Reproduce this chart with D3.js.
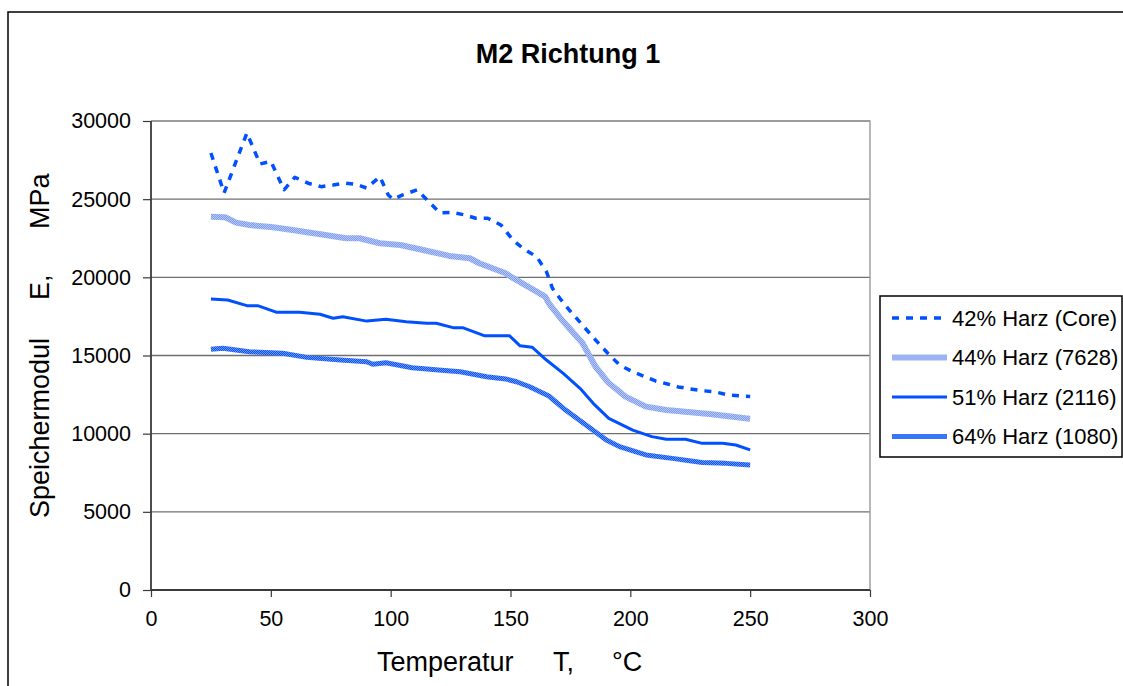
<!DOCTYPE html>
<html>
<head>
<meta charset="utf-8">
<script src="https://cdn.jsdelivr.net/npm/d3@7"></script>
<style>
  body { margin: 0; background: #fff; }
  svg { display: block; font-family: "Liberation Sans", Arial, sans-serif; }
</style>
</head>
<body>
<svg id="chart" width="1123" height="686"></svg>
<script>
// Data (temperature in °C, storage modulus in MPa)
const seriesNames = ["42% Harz (Core)", "44% Harz (7628)", "51% Harz (2116)", "64% Harz (1080)"];

const tCore = [25, 30.5, 40, 45.5, 50, 55.5, 60, 66, 71, 76, 81, 86, 90, 95.5, 99, 101, 105, 111, 115.5, 120.5, 125.5, 131, 135.5, 140.5, 146, 151, 155, 161, 165, 167.5, 170.5, 174.5, 180, 185.5, 190.5, 195.5, 201, 206, 210.5, 215.5, 220, 225, 230, 235.5, 241, 246.5, 250];
const eCore = [27950, 25400, 29230, 27250, 27420, 25600, 26400, 26000, 25800, 25900, 26030, 25930, 25710, 26440, 25270, 24990, 25270, 25590, 24900, 24130, 24160, 23990, 23780, 23780, 23350, 22390, 21880, 21300, 20360, 19300, 18680, 17910, 16950, 15990, 15160, 14390, 13960, 13650, 13370, 13180, 12990, 12860, 12750, 12670, 12470, 12410, 12380];

const t7628 = [25, 31, 35.5, 41, 51, 59, 70, 81.5, 87, 95.5, 104, 113.5, 124.5, 133, 137, 148, 151, 164.5, 166, 171.5, 180, 185.5, 191, 198, 206.5, 215, 223, 234, 248, 250];
const e7628 = [23880, 23840, 23500, 23350, 23200, 23030, 22770, 22500, 22500, 22180, 22070, 21750, 21370, 21220, 20900, 20260, 19960, 18760, 18340, 17270, 15800, 14280, 13240, 12370, 11730, 11510, 11400, 11240, 10980, 10950];

const t2116 = [25, 32, 40, 44.5, 52.5, 62, 70.5, 76, 80, 90, 98, 106.5, 115, 119, 126, 130, 139, 149.5, 154, 159, 165, 172, 179, 184.5, 191, 201, 209, 215, 223, 230, 238.5, 244, 250];
const e2116 = [18610, 18550, 18190, 18190, 17760, 17760, 17640, 17380, 17480, 17200, 17320, 17160, 17060, 17060, 16780, 16780, 16270, 16270, 15620, 15530, 14710, 13860, 12900, 11940, 10980, 10230, 9810, 9640, 9640, 9380, 9380, 9275, 8960];

const t1080 = [25, 30, 41, 55, 65, 79, 90, 92.5, 98, 109, 120, 129, 140, 148, 152.5, 158, 166, 173, 181.5, 190, 195.5, 206.5, 217.5, 230, 240, 250];
const e1080 = [15400, 15460, 15240, 15140, 14880, 14710, 14600, 14440, 14540, 14220, 14070, 13960, 13640, 13500, 13320, 13000, 12410, 11510, 10550, 9600, 9170, 8640, 8420, 8150, 8100, 8000];

const xTicks = [0, 50, 100, 150, 200, 250, 300];
const yTicks = [0, 5000, 10000, 15000, 20000, 25000, 30000];

const svg = d3.select("#chart");

// outer chart frame (runs off the right and bottom of the picture)
svg.append("rect")
    .attr("x", 8).attr("y", 12)
    .attr("width", 1200).attr("height", 800)
    .attr("fill", "#fff").attr("stroke", "#000").attr("stroke-width", 1.5);

// stroke textures for the two patterned lines
const defs = svg.append("defs");
function checker(id, c1, c2) {
    const p = defs.append("pattern")
        .attr("id", id).attr("patternUnits", "userSpaceOnUse")
        .attr("width", 2).attr("height", 2);
    p.append("rect").attr("width", 2).attr("height", 2).attr("fill", c1);
    p.append("rect").attr("width", 1).attr("height", 1).attr("fill", c2);
    p.append("rect").attr("x", 1).attr("y", 1).attr("width", 1).attr("height", 1).attr("fill", c2);
}
checker("pat7628", "#7f9df0", "#b7c8f7");
checker("pat1080", "#0a55f5", "#6a95fb");

const x = d3.scaleLinear().domain([0, 300]).range([151, 870]);
const y = d3.scaleLinear().domain([0, 30000]).range([590, 121]);

// gridlines
svg.append("g")
    .selectAll("line")
    .data(yTicks.slice(1))
    .join("line")
    .attr("x1", x(0)).attr("x2", x(300))
    .attr("y1", d => y(d)).attr("y2", d => y(d))
    .attr("stroke", "#6f6f6f").attr("stroke-width", 1.3);

// plot area frame (top and right)
svg.append("path")
    .attr("d", `M${x(0)},${y(30000)}H${x(300)}V${y(0)}`)
    .attr("fill", "none").attr("stroke", "#a0a0a0").attr("stroke-width", 1.5);

// axes
const yAxis = svg.append("g")
    .attr("transform", `translate(${x(0)},0)`)
    .call(d3.axisLeft(y).tickValues(yTicks).tickSize(8).tickPadding(12).tickFormat(d3.format("d")));
const xAxis = svg.append("g")
    .attr("transform", `translate(0,${y(0)})`)
    .call(d3.axisBottom(x).tickValues(xTicks).tickSize(7).tickPadding(14).tickFormat(d3.format("d")));

[yAxis, xAxis].forEach(g => {
    g.select(".domain").attr("stroke", "#3a3a3a").attr("stroke-width", 1.8);
    g.selectAll(".tick line").attr("stroke", "#3a3a3a").attr("stroke-width", 1.2);
    g.selectAll(".tick text")
        .attr("fill", "#000")
        .style("font-family", "'Liberation Sans', Arial, sans-serif")
        .style("font-size", "21.5px");
});
yAxis.select(".domain").attr("d", `M0,${y(30000)}V${y(0)}`);
xAxis.select(".domain").attr("d", `M${x(0)},0H${x(300)}`);

// series lines
const series = [
    { name: seriesNames[0], t: tCore, e: eCore, stroke: "#0050ff", width: 3.5, dash: "7,7" },
    { name: seriesNames[1], t: t7628, e: e7628, stroke: "url(#pat7628)", width: 6, dash: null },
    { name: seriesNames[2], t: t2116, e: e2116, stroke: "#0050ff", width: 3, dash: null },
    { name: seriesNames[3], t: t1080, e: e1080, stroke: "url(#pat1080)", width: 5, dash: null }
];

const line = d3.line()
    .x(d => x(d[0]))
    .y(d => y(d[1]));

svg.append("g")
    .selectAll("path")
    .data(series)
    .join("path")
    .attr("d", s => line(d3.zip(s.t, s.e)))
    .attr("fill", "none")
    .attr("stroke", s => s.stroke)
    .attr("stroke-width", s => s.width)
    .attr("stroke-dasharray", s => s.dash)
    .attr("stroke-linejoin", "round");

// title
svg.append("text")
    .attr("x", 568).attr("y", 63)
    .attr("text-anchor", "middle")
    .style("font-size", "27px").style("font-weight", "bold")
    .text("M2 Richtung 1");

// x axis title
const xTitle = svg.append("g").style("font-size", "27px");
xTitle.append("text").attr("x", 377).attr("y", 671).text("Temperatur");
xTitle.append("text").attr("x", 553).attr("y", 671).text("T,");
xTitle.append("text").attr("x", 612).attr("y", 671).text("°C");

// y axis title
const yTitle = svg.append("g")
    .attr("transform", "translate(49,0) rotate(-90)")
    .style("font-size", "27px");
yTitle.append("text").attr("x", -518).attr("y", 0).text("Speichermodul");
yTitle.append("text").attr("x", -300).attr("y", 0).text("E,");
yTitle.append("text").attr("x", -229).attr("y", 0).text("MPa");

// legend
const legend = svg.append("g");
legend.append("rect")
    .attr("x", 880).attr("y", 296)
    .attr("width", 242).attr("height", 161)
    .attr("fill", "#fff").attr("stroke", "#000").attr("stroke-width", 1.5);

const rows = legend.selectAll("g.row")
    .data(series)
    .join("g")
    .attr("class", "row")
    .attr("transform", (s, i) => `translate(0,${318 + i * 39.5})`);
rows.append("line")
    .attr("x1", 892).attr("x2", 947)
    .attr("stroke", s => s.stroke)
    .attr("stroke-width", s => s.width)
    .attr("stroke-dasharray", s => s.dash);
rows.append("text")
    .attr("x", 952).attr("dy", "0.36em")
    .style("font-size", "22px")
    .text(s => s.name);
</script>
</body>
</html>
